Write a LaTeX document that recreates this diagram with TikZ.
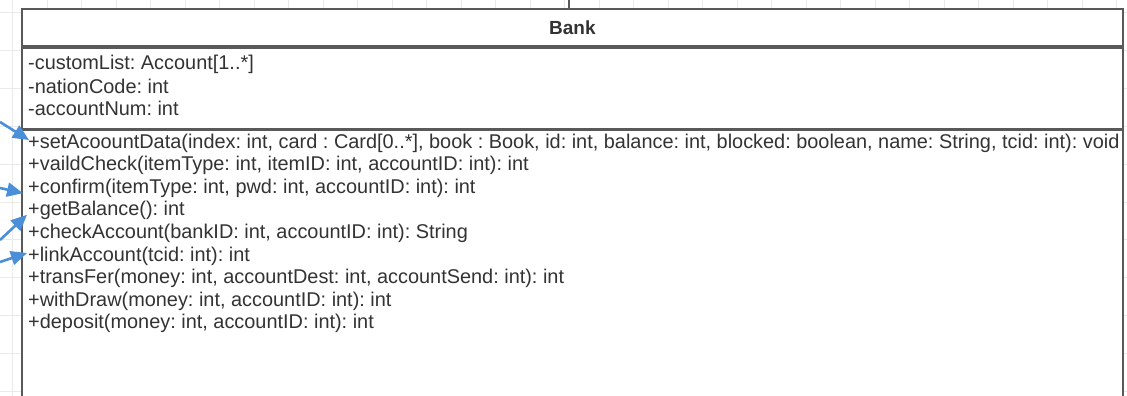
\documentclass[tikz,border=0pt]{standalone}
\usepackage{fontspec}
\setmainfont{Liberation Sans}
\usetikzlibrary{arrows.meta,positioning}
\frenchspacing

\definecolor{boxline}{HTML}{595959}
\definecolor{linkblue}{HTML}{4A8FD8}
\definecolor{gridgray}{HTML}{EAEAEA}
\definecolor{txtgray}{HTML}{333333}

\tikzset{
  classpart/.style={draw=boxline, fill=white, line width=1.8pt,
    minimum width=1101pt, anchor=north west, inner sep=0pt},
  member/.style={anchor=west, inner sep=0pt, text=txtgray,
    font=\fontsize{19.9}{22}\selectfont},
  link/.style={draw=linkblue, line width=2.6pt,
    -{Triangle[length=16pt,width=14pt]}},
}

\begin{document}
\begin{tikzpicture}[x=1pt, y=-1pt]

  \useasboundingbox (0,0) rectangle (1127,396); %

  % Background grid
  \foreach \gx in {0,...,32} %
    \draw[gridgray, line width=1pt] (12.5+34.5*\gx,0) -- (12.5+34.5*\gx,396); %
  \foreach \gy in {0,...,10} %
    \draw[gridgray, line width=1pt] (0,13+37.8*\gy) -- (1127,13+37.8*\gy); %

  % Class compartments
  \node[classpart, minimum height=37pt] (bank) at (21,8)
  {\fontsize{19}{22}\selectfont\bfseries\color{txtgray}Bank}; %
  \node[classpart, minimum height=81pt] (attrs) at (bank.south west) {}; %
  \node[classpart, minimum height=269pt] (ops) at (attrs.south west) {}; %

  % Connector leaving the top
  \coordinate (up) at (569,0); %
  \draw[boxline, line width=1.8pt] (up) -- (up |- bank.north); %

  % Attributes
  \foreach \txt [count=\i] in {%
    {-customList: Account[1..*]},%
    {-nationCode: int},%
    {-accountNum: int}} %
    \node[member] (a\i) at (28,64+22*\i-22) {\txt}; %

  % Operations
  \foreach \txt [count=\i] in {%
    {+setAcoountData(index: int, card : Card[0..*], book : Book, id: int, balance: int, blocked: boolean, name: String, tcid: int): void},%
    {+vaildCheck(itemType: int, itemID: int, accountID: int): int},%
    {+confirm(itemType: int, pwd: int, accountID: int): int},%
    {+getBalance(): int},%
    {+checkAccount(bankID: int, accountID: int): String},%
    {+linkAccount(tcid: int): int},%
    {+transFer(money: int, accountDest: int, accountSend: int): int},%
    {+withDraw(money: int, accountID: int): int},%
    {+deposit(money: int, accountID: int): int}} %
    \node[member] (m\i) at (28,143+22.6*\i-22.6) {\txt}; %

  % Incoming links
  \coordinate (in1) at (0,122); %
  \coordinate (in3) at (0,188); %
  \coordinate (in4) at (0,240); %
  \coordinate (in6) at (0,262); %

  \draw[link] (in1) -- ([shift={(1pt,3pt)}]m1.west); %
  \draw[link] (in3) -- ([shift={(-5pt,-5pt)}]m3.west); %
  \draw[link] (in4) -- ([shift={(-1pt,-4pt)}]m4.west); %
  \draw[link] (in6) -- ([shift={(-1pt,3pt)}]m6.west); %

\end{tikzpicture}
\end{document}
